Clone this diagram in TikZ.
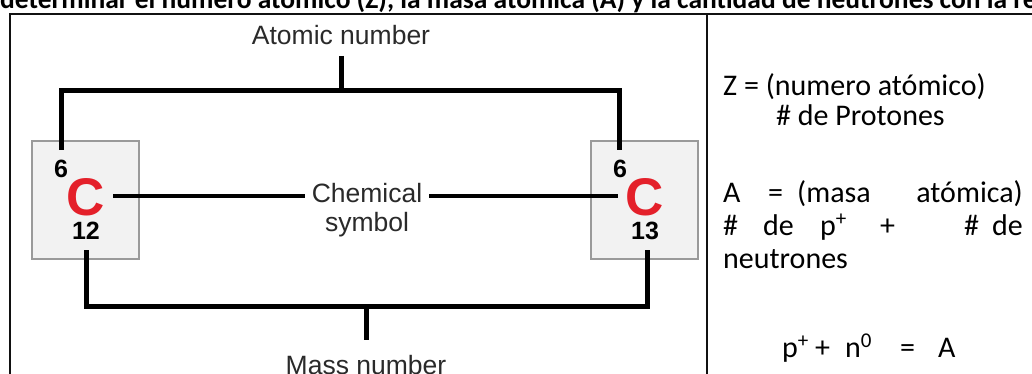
\documentclass[tikz,border=0pt]{standalone}
\usepackage{fontspec}
\newfontfamily\arialf{Liberation Sans}
\newfontfamily\calf{Carlito}
\definecolor{ink}{HTML}{111111}
\definecolor{labink}{HTML}{2A2A2A}
\definecolor{boxfill}{HTML}{F2F2F2}
\definecolor{boxline}{HTML}{9A9A9A}
\definecolor{symred}{HTML}{E4202A}
\begin{document}
\begin{tikzpicture}[x=1pt,y=-1pt,
  frame/.style={draw=ink,line width=2.4pt},
  conn/.style={draw=black,line width=5pt,line cap=butt,line join=miter},
  elbox/.style={draw=boxline,fill=boxfill,line width=2pt,minimum width=107pt,minimum height=117pt,inner sep=0pt},
  lab/.style={font=\arialf\fontsize{26.5}{29}\selectfont,text=labink,inner sep=0pt,anchor=base,align=center},
  znum/.style={font=\arialf\bfseries\fontsize{25}{29}\selectfont,inner sep=0pt,anchor=base},
  sym/.style={font=\arialf\bfseries\fontsize{53}{56}\selectfont,text=symred,inner sep=0pt,anchor=base},
  txt/.style={font=\calf\fontsize{30}{34}\selectfont,inner sep=0pt,anchor=base west},
  txtr/.style={txt,anchor=base east},
  title/.style={font=\calf\bfseries\fontsize{27.5}{32}\selectfont,inner sep=0pt,anchor=base west}]
\useasboundingbox (0,0) rectangle (1032,374);
\clip (0,0) rectangle (1032,374);
\fill[white] (0,0) rectangle (1032,374);
% title (cut off at top)
\node[title] (ttl) at (0,9) {determinar el número atómico (Z), la masa atómica (A) y la cantidad de neutrones con la relación};
% table frame
\coordinate (ftl) at (10,14);
\coordinate (ftr) at (1040,14);
\coordinate (fbl) at (10,380);
\coordinate (dtop) at (707,14);
\coordinate (dbot) at (707,380);
\draw[frame] (ftr) -- (ftl) -- (fbl);
\draw[frame] (dtop) -- (dbot);
% element boxes
\node[elbox] (b1) at (85,200) {};
\node[elbox] (b2) at (644,200) {};
\node[znum] (z1) at (61,177) {6};
\node[znum] (z2) at (620,177) {6};
\node[sym] (c1) at (86,215) {C};
\node[sym] (c2) at (645,215) {C};
\node[znum] (m1) at (86,239) {12};
\node[znum] (m2) at (645,239) {13};
% labels
\node[lab] (an) at (341,45) {Atomic number};
\node[lab] (cs) at (367,231) {Chemical\\symbol};
\node[lab] (mn) at (366,374) {Mass number};
% atomic number bracket
\coordinate (atl) at (61,91);
\coordinate (atr) at (619,91);
\coordinate (atm) at (341,91);
\coordinate (al) at (61,150);
\coordinate (ar) at (619,150);
\draw[conn] (al) -- (atl) -- (atr) -- (ar);
\draw[conn] ([yshift=-11pt]an.base) -- (atm);
% chemical symbol lines
\coordinate (cl) at (113,196);
\coordinate (cr) at (618,196);
\draw[conn,line width=4.5pt] (cl) -- ([xshift=-7pt]cs.west |- cl);
\draw[conn,line width=4.5pt] ([xshift=7pt]cs.east |- cr) -- (cr);
% mass number bracket
\coordinate (ml) at (86,250);
\coordinate (mr) at (647,250);
\coordinate (mbl) at (86,306);
\coordinate (mbr) at (647,306);
\coordinate (mbm) at (366,306);
\coordinate (mst) at (366,340);
\draw[conn] (ml) -- (mbl) -- (mbr) -- (mr);
\draw[conn] (mbm) -- (mst);
% right panel text
\node[txt] (l1) at (723,96) {Z = (numero atómico)};
\node[txt] (l2) at (776,126) {\# de Protones};
\node[txt] (l3a) at (723,202) {A};
\node[txt] (l3b) at (768,202) {=};
\node[txt] (l3c) at (797,202) {(masa};
\node[txtr] (l3d) at (1023,202) {atómica)};
\node[txt] (l4a) at (723,235) {\#};
\node[txt] (l4b) at (763,235) {de};
\node[txt] (l4c) at (820,235) {p\textsuperscript{+}};
\node[txt] (l4d) at (880,235) {+};
\node[txt] (l4e) at (964,235) {\#};
\node[txtr] (l4f) at (1023,235) {de};
\node[txt] (l5) at (723,268) {neutrones};
\node[txt] (l6a) at (782,357) {p\textsuperscript{+}};
\node[txt] (l6b) at (815,357) {+};
\node[txt] (l6c) at (845,357) {n\textsuperscript{0}};
\node[txt] (l6d) at (900,357) {=};
\node[txt] (l6e) at (938,357) {A};
\end{tikzpicture}
\end{document}
